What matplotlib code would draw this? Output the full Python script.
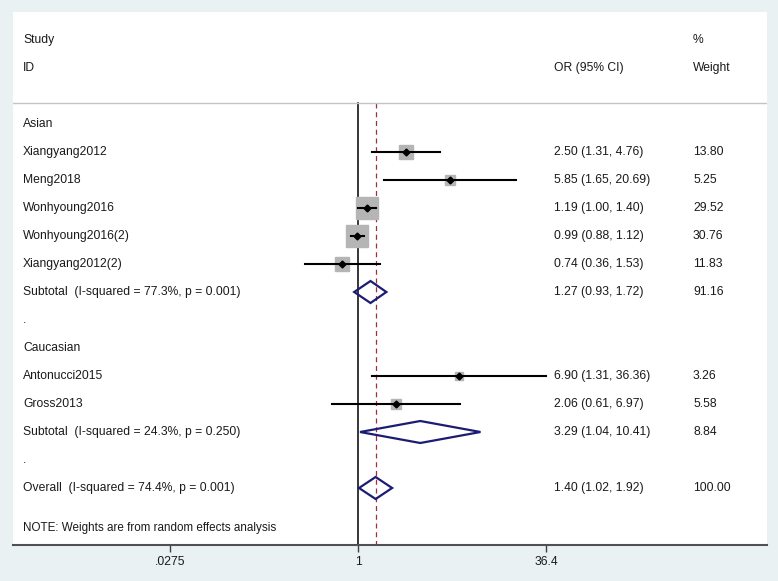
import numpy as np
import matplotlib.pyplot as plt

plt.rcParams['font.family'] = ['Liberation Sans', 'DejaVu Sans']

# Row labels (top to bottom) and row types
labels = ['Asian', 'Xiangyang2012', 'Meng2018', 'Wonhyoung2016', 'Wonhyoung2016(2)',
          'Xiangyang2012(2)', 'Subtotal  (I-squared = 77.3%, p = 0.001)', '.',
          'Caucasian', 'Antonucci2015', 'Gross2013',
          'Subtotal  (I-squared = 24.3%, p = 0.250)', '.',
          'Overall  (I-squared = 74.4%, p = 0.001)']
kinds = ['head', 'study', 'study', 'study', 'study', 'study', 'pool', 'blank',
         'head', 'study', 'study', 'pool', 'blank', 'pool']
est = [None, 2.50, 5.85, 1.19, 0.99, 0.74, 1.27, None, None, 6.90, 2.06, 3.29, None, 1.40]
lo = [None, 1.31, 1.65, 1.00, 0.88, 0.36, 0.93, None, None, 1.31, 0.61, 1.04, None, 1.02]
hi = [None, 4.76, 20.69, 1.40, 1.12, 1.53, 1.72, None, None, 36.36, 6.97, 10.41, None, 1.92]
ci_text = [None, '2.50 (1.31, 4.76)', '5.85 (1.65, 20.69)', '1.19 (1.00, 1.40)',
           '0.99 (0.88, 1.12)', '0.74 (0.36, 1.53)', '1.27 (0.93, 1.72)', None, None,
           '6.90 (1.31, 36.36)', '2.06 (0.61, 6.97)', '3.29 (1.04, 10.41)', None,
           '1.40 (1.02, 1.92)']
weights = [None, 13.80, 5.25, 29.52, 30.76, 11.83, 91.16, None, None, 3.26, 5.58, 8.84, None, 100.00]
overall = 1.40
xticks = [0.0275, 1, 36.4]
xtick_labels = ['.0275', '1', '36.4']

W, H = 778, 581
bg = '#eaf1f3'
fig = plt.figure(figsize=(W / 100, H / 100), dpi=100, facecolor=bg)

# plot region in pixels
left_px, right_px, top_px, bot_px = 13, 767, 12, 545
ax = fig.add_axes([left_px / W, 1 - bot_px / H, (right_px - left_px) / W, (bot_px - top_px) / H])
ax.set_facecolor('white')

# log scale: 1 at x=358, 120.4 px per decade
x0, ppd = 358, 120.4
ax.set_xscale('log')
ax.set_xlim(10 ** ((left_px - x0) / ppd), 10 ** ((right_px - x0) / ppd))
ax.set_ylim(bot_px, top_px)

fs = 8.75
tc = '#1a1a1a'
def fx(px):
    return (px - left_px) / (right_px - left_px)

trans = ax.get_yaxis_transform()  # x in axes fraction, y in data
def label(px, y, s, size=fs):
    ax.text(fx(px), y, s, fontsize=size, va='center', color=tc, transform=trans)

label(23, 40, 'Study')
label(23, 68, 'ID')
label(554, 68, 'OR (95% CI)')
label(693, 40, '%')
label(693, 68, 'Weight')
ax.axhline(103, color='#c4c4c4', lw=1)

row0, step = 124, 28
navy = '#1c1c74'
for i, lab in enumerate(labels):
    y = row0 + i * step
    label(23, y, lab)
    if ci_text[i]:
        label(554, y, ci_text[i])
        label(693, y, f'{weights[i]:.2f}')
    if kinds[i] == 'study':
        side = 4 * np.sqrt(weights[i]) * 0.72
        ax.plot([est[i]], [y], marker='s', ms=side, mfc='#b5b5b5', mec='#b5b5b5', zorder=2)
        ax.plot([lo[i], hi[i]], [y, y], color='black', lw=1.5, zorder=3)
        ax.plot([est[i]], [y], marker='D', ms=3.5, color='black', zorder=4)
    elif kinds[i] == 'pool':
        ax.fill([lo[i], est[i], hi[i], est[i], lo[i]], [y, y - 11, y, y + 11, y],
                facecolor='none', edgecolor=navy, lw=1.6, zorder=3)

label(23, 528, 'NOTE: Weights are from random effects analysis', fs * 0.96)

ax.plot([1, 1], [103, bot_px], color='black', lw=1.1, zorder=1)
ax.plot([overall, overall], [103, bot_px], color='#9b3040', lw=0.9, ls=(0, (4, 3)), zorder=1)

for s in ['left', 'right', 'top']:
    ax.spines[s].set_visible(False)
ax.spines['bottom'].set_color('#505050')
ax.spines['bottom'].set_linewidth(1.5)
ax.set_yticks([])
ax.set_xticks(xticks)
ax.set_xticklabels(xtick_labels, fontsize=fs, color=tc)
ax.xaxis.set_minor_locator(plt.NullLocator())
ax.tick_params(axis='x', direction='out', length=5, width=1, color='#404040', pad=3)

fig.savefig('out.png', dpi=100, facecolor=bg)
